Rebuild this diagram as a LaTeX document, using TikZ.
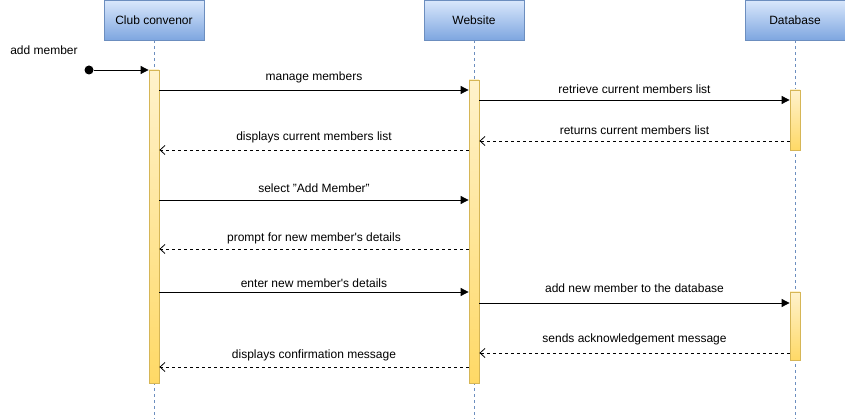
\documentclass[tikz,border=0pt]{standalone}
\usepackage{fontspec}
\setmainfont{Liberation Sans}
\usetikzlibrary{arrows.meta}
\usetikzlibrary{positioning}
\definecolor{headtop}{HTML}{DAE8FC}
\definecolor{headbot}{HTML}{7EA6E0}
\definecolor{headline}{HTML}{6C8EBF}
\definecolor{bartop}{HTML}{FFF2CC}
\definecolor{barbot}{HTML}{FFD966}
\definecolor{barline}{HTML}{D6B656}
\tikzset{
    Head/.style = {rectangle, draw=headline, top color=headtop, bottom color=headbot, minimum width=100pt, minimum height=40pt, align=center}
}
\tikzset{
    Bar/.style = {rectangle, draw=barline, top color=bartop, bottom color=barbot, minimum width=10pt, inner sep=0pt}
}
\tikzset{
    Life/.style = {draw=headline, dash pattern=on 3pt off 3pt}
}
\tikzset{
    Call/.style = {draw=black, -{Triangle[length=8pt,width=8pt]}}
}
\tikzset{
    Reply/.style = {draw=black, dash pattern=on 3pt off 3pt, -{Straight Barb[length=5pt,width=9pt]}}
}

\begin{document}
\begin{tikzpicture}[
    x=1pt, y=-1pt,
    line width=0.8pt,
    font=\fontsize{12}{14}\selectfont
]
\tikzset{
    mystart/.style = {circle, fill=black, inner sep=0pt, minimum size=9pt},
    mylabel/.style = {inner sep=1pt}
}
\useasboundingbox (0,0) rectangle (845,419);
\node[Head] at (154,20) (club) {Club convenor};
\node[Head] at (474,20) (web) {Website};
\node[Head] at (795,20) (db) {Database};
\path (club) edge [Life] (club.south |- 0,419);
\path (web) edge [Life] (web.south |- 0,419);
\path (db) edge [Life] (db.south |- 0,419);
\node[Bar, minimum height=313pt] at (154,226.5) (cbar) {};
\node[Bar, minimum height=303pt] at (474,231.5) (wbar) {};
\node[Bar, minimum height=60pt] at (795,120) (dbar1) {};
\node[Bar, minimum height=68pt] at (795,326) (dbar2) {};
\node[mylabel] at (44,50) (add) {add member};
\node[mystart] at (89,70) (start) {};
\path (start) edge [Call] (start -| cbar.west);
\path (cbar.east |- 0,90) edge [Call] node[mylabel, above=6pt] {manage members} (wbar.west |- 0,90);
\path (wbar.east |- 0,100) edge [Call] node[mylabel, above=5pt] {retrieve current members list} (dbar1.west |- 0,100);
\path (dbar1.west |- 0,141) edge [Reply] node[mylabel, above=5pt] {returns current members list} (wbar.east |- 0,141);
\path (wbar.west |- 0,150) edge [Reply] node[mylabel, above=6pt] {displays current members list} (cbar.east |- 0,150);
\path (cbar.east |- 0,200) edge [Call] node[mylabel, above=6pt] {select "Add Member"} (wbar.west |- 0,200);
\path (wbar.west |- 0,249) edge [Reply] node[mylabel, above=4pt] {prompt for new member\textquotesingle s details} (cbar.east |- 0,249);
\path (cbar.east |- 0,292) edge [Call] node[mylabel, above=3pt] {enter new member\textquotesingle s details} (wbar.west |- 0,292);
\path (wbar.east |- 0,303) edge [Call] node[mylabel, above=9pt] {add new member to the database} (dbar2.west |- 0,303);
\path (dbar2.west |- 0,353) edge [Reply] node[mylabel, above=7pt] {sends acknowledgement message} (wbar.east |- 0,353);
\path (wbar.west |- 0,367) edge [Reply] node[mylabel, above=5pt] {displays confirmation message} (cbar.east |- 0,367);
\end{tikzpicture}
\end{document}
